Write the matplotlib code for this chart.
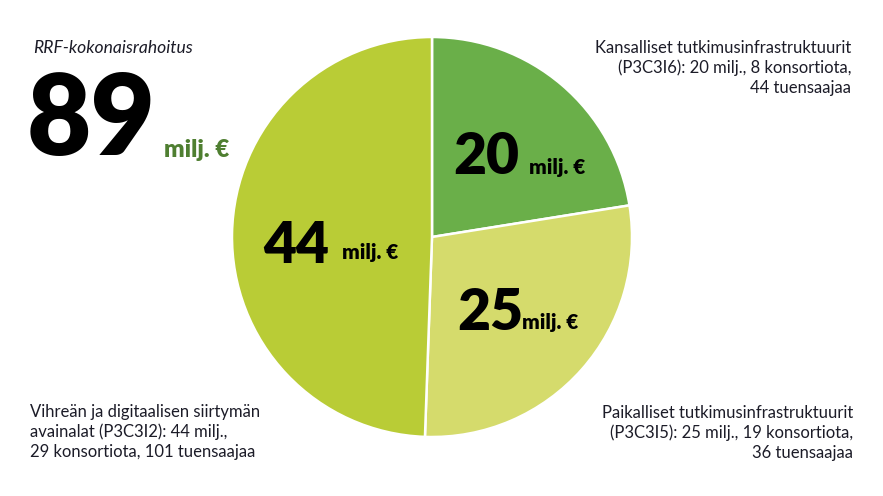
import matplotlib
matplotlib.use("Agg")
import matplotlib.pyplot as plt

plt.rcParams["font.family"] = ["Lato", "DejaVu Sans"]

# values in milj. €, clockwise from the top
amounts = [20, 25, 44]
slice_colors = ["#6aaf49", "#d5db6c", "#b9cc36"]
total = 89
descriptions = [
    "Kansalliset tutkimusinfrastruktuurit\n(P3C3I6): 20 milj., 8 konsortiota,\n44 tuensaajaa",
    "Paikalliset tutkimusinfrastruktuurit\n(P3C3I5): 25 milj., 19 konsortiota,\n36 tuensaajaa",
    "Vihreän ja digitaalisen siirtymän\navainalat (P3C3I2): 44 milj.,\n29 konsortiota, 101 tuensaajaa",
]

W, H = 883, 496
fig = plt.figure(figsize=(W / 100, H / 100), dpi=100)


def fx(x):
    return x / W


def fy(y):
    return 1 - y / H


# pie axes: centre (432, 237), radius 200 px
ax = fig.add_axes([fx(232), fy(437), 400 / W, 400 / H])
ax.pie(amounts, colors=slice_colors, startangle=90, counterclock=False,
       radius=1.0, wedgeprops=dict(edgecolor="white", linewidth=1.8))
ax.set_xlim(-1, 1)
ax.set_ylim(-1, 1)
ax.set_aspect("equal")
ax.axis("off")

text_col = "#1c1c28"

# headline total
fig.text(fx(33), fy(48), "RRF-kokonaisrahoitus", fontsize=12.6, style="italic",
         color=text_col, va="center", ha="left")
fig.text(fx(27), fy(155), str(total), fontsize=80, fontweight="heavy",
         color="black", va="baseline", ha="left")
fig.text(fx(164), fy(157), "milj. €", fontsize=17.5, fontweight="heavy",
         color="#4f7f31", va="baseline", ha="left")

# big labels inside slices
big_labels = [
    (453, 174, 529, 174),
    (457, 330, 522, 329),
    (263, 263, 342, 259),
]
for val, (x1, y1, x2, y2) in zip(amounts, big_labels):
    fig.text(fx(x1), fy(y1), str(val), fontsize=41, fontweight="heavy",
             color="black", va="baseline", ha="left")
    fig.text(fx(x2), fy(y2), "milj. €", fontsize=15, fontweight="heavy",
             color="black", va="baseline", ha="left")

# descriptions
desc_kw = dict(fontsize=12, color=text_col, va="top", linespacing=1.27)
fig.text(fx(851), fy(40), descriptions[0], ha="right", **desc_kw)
fig.text(fx(853), fy(405), descriptions[1], ha="right", **desc_kw)
fig.text(fx(30), fy(404), descriptions[2], ha="left", **desc_kw)

fig.savefig("out.png", dpi=100, facecolor="white")
